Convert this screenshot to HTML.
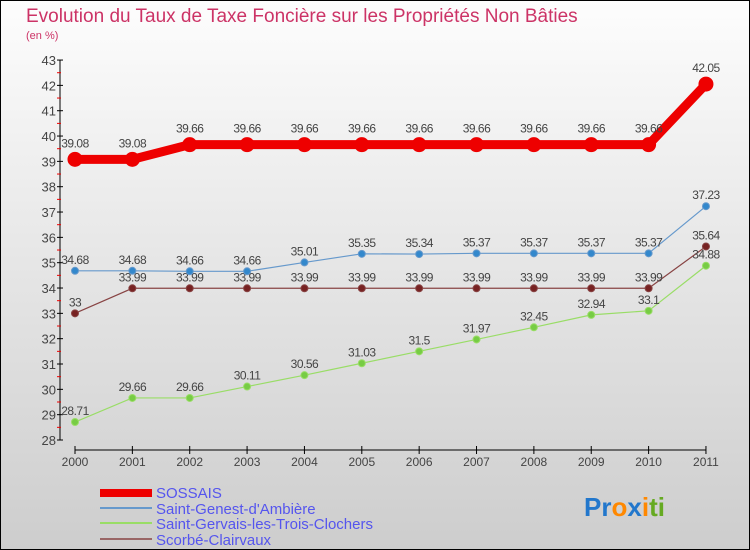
<!DOCTYPE html>
<html><head><meta charset="utf-8"><style>
body{margin:0}
svg{display:block;font-family:"Liberation Sans",sans-serif}
</style></head><body>
<svg width="750" height="550" xmlns="http://www.w3.org/2000/svg">
<defs><linearGradient id="bg" x1="0" y1="0" x2="0" y2="1"><stop offset="0" stop-color="#fdfdfd"/><stop offset="1" stop-color="#cdcdcd"/></linearGradient></defs>
<rect x="0.5" y="0.5" width="749" height="549" fill="url(#bg)" stroke="#000"/>
<text x="26" y="22" font-size="19" fill="#cc3366">Evolution du Taux de Taxe Foncière sur les Propriétés Non Bâties</text>
<text x="26" y="39" font-size="11" fill="#cc3366">(en %)</text>
<g id="axes"></g>
<g id="series"></g>
<g>
<rect x="100" y="489" width="52" height="8" fill="#ee0000"/>
<text x="156" y="498" font-size="15" fill="#5555ee">SOSSAIS</text>
<rect x="100" y="507" width="52" height="2" fill="#6699cc"/>
<text x="156" y="514" font-size="15" fill="#5555ee">Saint-Genest-d'Ambière</text>
<rect x="100" y="522" width="52" height="2" fill="#99dd66"/>
<text x="156" y="529" font-size="15" fill="#5555ee">Saint-Gervais-les-Trois-Clochers</text>
<rect x="100" y="538" width="52" height="2" fill="#996666"/>
<text x="156" y="545" font-size="15" fill="#5555ee">Scorbé-Clairvaux</text>
</g>
<text x="584" y="516" font-size="26" font-weight="bold"><tspan fill="#2277cc">Pr</tspan><tspan fill="#ff8800">o</tspan><tspan fill="#2277cc">x</tspan><tspan fill="#ff8800">i</tspan><tspan fill="#66aa22">ti</tspan></text>
</svg>
<script>
const years=["2000","2001","2002","2003","2004","2005","2006","2007","2008","2009","2010","2011"];
const yTicks=[28,29,30,31,32,33,34,35,36,37,38,39,40,41,42,43];
const sossais=[39.08,39.08,39.66,39.66,39.66,39.66,39.66,39.66,39.66,39.66,39.66,42.05];
const genest=[34.68,34.68,34.66,34.66,35.01,35.35,35.34,35.37,35.37,35.37,35.37,37.23];
const gervais=[28.71,29.66,29.66,30.11,30.56,31.03,31.5,31.97,32.45,32.94,33.1,34.88];
const scorbe=[33,33.99,33.99,33.99,33.99,33.99,33.99,33.99,33.99,33.99,33.99,35.64];
const NS="http://www.w3.org/2000/svg";
const X=i=>75+i*57.36;
const Y=v=>440-(v-28)*25.33;
function mk(tag,attrs,parent,text){const e=document.createElementNS(NS,tag);for(const k in attrs)e.setAttribute(k,attrs[k]);if(text!=null)e.textContent=text;parent.appendChild(e);return e;}
const ax=document.getElementById('axes');
let yl=mk('line',{x1:60,y1:Y(43),x2:60,y2:Y(28),stroke:'#000'},ax);


yTicks.forEach(t=>{
 mk('line',{x1:57,x2:63,y1:Y(t),y2:Y(t),stroke:'#000'},ax);
 if(t<43)mk('line',{x1:57,x2:61,y1:Y(t+0.5),y2:Y(t+0.5),stroke:'#ee0000'},ax);
 const lb=mk('text',{x:56,y:Y(t)+5,'font-size':13,fill:'#444','text-anchor':'end'},ax,String(t));
 
 
});
let xl=mk('line',{x1:X(0),y1:450,x2:X(11),y2:450,stroke:'#000'},ax);


years.forEach((y,i)=>{
 mk('line',{x1:X(i),x2:X(i),y1:446,y2:454,stroke:'#000'},ax);
 const lb=mk('text',{x:X(i),y:466,'font-size':12,fill:'#444','text-anchor':'middle'},ax,y);
 
 
});
const sg=document.getElementById('series');
function draw(data,name,color,dot,w,r,labDy){
 const g=mk('g',{},sg);
 
 
 const pl=mk('polyline',{points:data.map((v,i)=>X(i)+','+Y(v)).join(' '),fill:'none',stroke:color,'stroke-width':w,'stroke-linejoin':'round'},g);
 
 
 data.forEach((v,i)=>{
  const c=mk('circle',{cx:X(i),cy:Y(v),r:r,fill:dot,stroke:color,'stroke-width':1},g);
  
  
  const t=mk('text',{x:X(i),y:Y(v)+labDy,'font-size':12,fill:'#444','text-anchor':'middle','letter-spacing':'-0.5'},g,String(v));
  
  
 });
}
draw(scorbe,'scorbe','#884444','#772222',1.2,3.5,-7);
draw(gervais,'saint-gervais','#99dd66','#77cc44',1.2,3.5,-7);
draw(genest,'saint-genest','#6699cc','#3388cc',1.2,3.5,-7);
draw(sossais,'sossais','#ee0000','#ee0000',9,7,-12);
</script>
</body></html>
